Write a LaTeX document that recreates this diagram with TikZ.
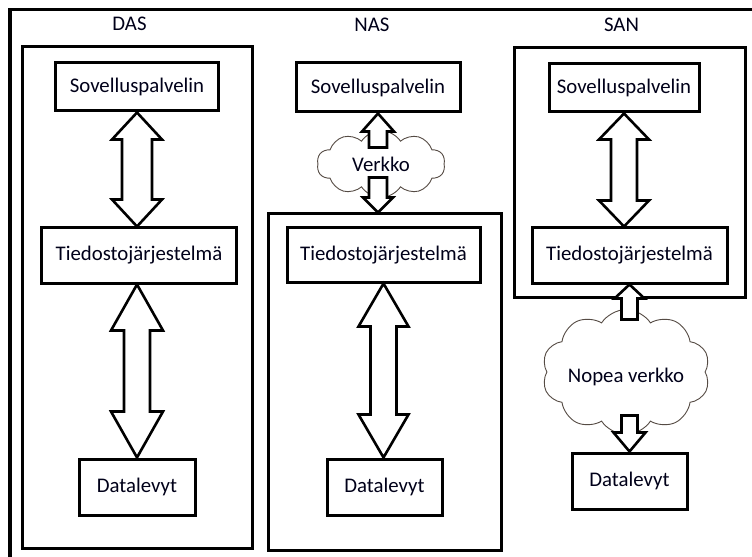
\documentclass[tikz,border=0pt]{standalone}
\usepackage{fontspec}
\setmainfont{Carlito}
\usetikzlibrary{calc,shapes.symbols}

% Block arrow with heads at both ends: top tip, bottom tip, head half-width,
% shaft half-width, head length (all in bp)
\newcommand\dualarrow[5]{%
  \draw[blockarrow] let \p1=(#1), \p2=(#2) in
    (\x1,\y1) -- (\x1+#3bp,\y1-#5bp) -- (\x1+#4bp,\y1-#5bp)
    -- (\x1+#4bp,\y2+#5bp) -- (\x1+#3bp,\y2+#5bp) -- (\x1,\y2)
    -- (\x1-#3bp,\y2+#5bp) -- (\x1-#4bp,\y2+#5bp)
    -- (\x1-#4bp,\y1-#5bp) -- (\x1-#3bp,\y1-#5bp) -- cycle;}

% Block arrow with one head: tip, direction (1 = points up, -1 = points down),
% total length, head length, head half-width, shaft half-width
\newcommand\singlearrow[6]{%
  \draw[blockarrow] (#1) -- ++(#5,#2*#4) -- ++(-#5+#6,0) -- ++(0,#2*#3-#2*#4)
    -- ++(-2*#6,0) -- ++(0,-#2*#3+#2*#4) -- ++(-#5+#6,0) -- cycle;}

\tikzset{
  x=1bp, y=-1bp,
  every node/.style={font=\fontsize{20.8bp}{24bp}\selectfont, text=black!90!blue},
  box/.style={draw=black, line width=3bp, rectangle, inner sep=0pt, fill=white},
  frame/.style={draw=black, line width=3bp, rectangle, inner sep=0pt},
  blockarrow/.style={draw=black, line width=2.6bp, fill=white, line join=miter, miter limit=10},
  netcloud/.style={cloud, cloud ignores aspect, draw={rgb,255:red,85;green,75;blue,68},
    line width=0.9bp, fill=white, inner sep=0pt},
  heading/.style={inner sep=0pt},
}

\begin{document}
\begin{tikzpicture}
\useasboundingbox (0,0) rectangle (752,557);
\fill[white] (0,0) rectangle (752,557);
\clip (0,0) rectangle (752,557);

% outer frame
\draw[line width=3.2bp] (10,570) -- (10,9.5) -- (760,9.5);

% ---- DAS ----
\node[heading] (dastitle) at (129.5,24) {DAS};
\node[frame, minimum width=229bp, minimum height=501bp] (dasbox) at (137.5,297.5) {};
\node[box, minimum width=162bp, minimum height=48bp] (dassov) at (137,87) {Sovelluspalvelin};
\node[box, minimum width=194bp, minimum height=55bp] (dasfs) at (139,255.5) {Tiedostojärjestelmä};
\node[box, minimum width=116bp, minimum height=56bp] (dasdl) at (137,487) {Datalevyt};
\dualarrow{dassov.south}{dasfs.north}{25}{15}{27}
\dualarrow{dassov.south |- dasfs.south}{dassov.south |- dasdl.north}{26}{13}{46}

% ---- NAS ----
\node[heading] (nastitle) at (372,25) {NAS};
\node[box, minimum width=164bp, minimum height=49bp] (nassov) at (378,87.5) {Sovelluspalvelin};
\node[netcloud, cloud puffs=10, cloud puff arc=115, minimum width=128bp, minimum height=67bp] (verkko) at (381,164) {};
\node[frame, minimum width=233bp, minimum height=336bp] (nasbox) at (384.5,382) {};
\node[box, minimum width=193bp, minimum height=54bp] (nasfs) at (383.5,255) {Tiedostojärjestelmä};
\node[box, minimum width=115bp, minimum height=56bp] (nasdl) at (384.5,487) {Datalevyt};
\singlearrow{nassov.south}{1}{34}{18}{16}{9}
\singlearrow{nassov.south |- nasbox.north}{-1}{35}{15}{15}{9}
\node[inner sep=0pt] (verkkotext) at (verkko.center) {Verkko};
\dualarrow{nasfs.south}{nasdl.north}{25}{13}{43}

% ---- SAN ----
\node[heading] (santitle) at (621.5,25) {SAN};
\node[frame, minimum width=231bp, minimum height=249bp] (sanbox) at (629.5,172.5) {};
\node[box, minimum width=150bp, minimum height=48bp] (sansov) at (624,88) {Sovelluspalvelin};
\node[box, minimum width=195bp, minimum height=55bp] (sanfs) at (629.5,255.5) {Tiedostojärjestelmä};
\dualarrow{sansov.south}{sansov.south |- sanfs.north}{25}{13}{26}
\node[netcloud, cloud puffs=10, cloud puff arc=115, minimum width=168bp, minimum height=125bp] (nopea) at (626,372) {};
\node[box, minimum width=115bp, minimum height=56bp] (sandl) at (629.5,481) {Datalevyt};
\singlearrow{sanfs.south}{1}{35}{14}{15}{8}
\singlearrow{sandl.north}{-1}{36}{19}{16}{8}
\node[inner sep=0pt] (nopeatext) at ([yshift=-5bp]nopea.center) {Nopea verkko};
\end{tikzpicture}
\end{document}
